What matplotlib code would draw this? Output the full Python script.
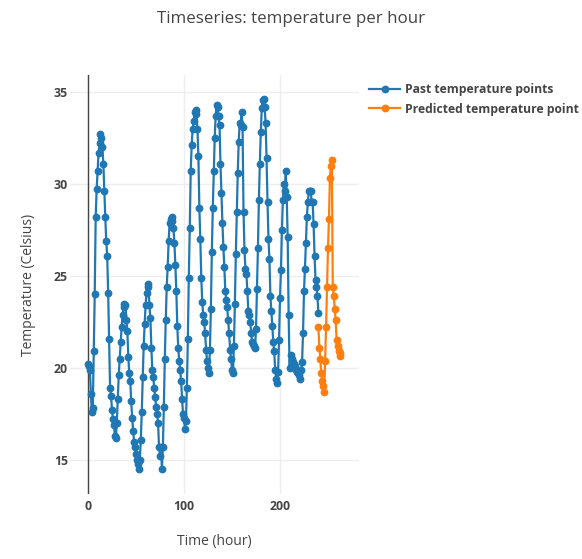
import numpy as np
import matplotlib
matplotlib.use("Agg")
import matplotlib.pyplot as plt

plt.rcParams['font.family'] = ['Open Sans', 'DejaVu Sans']

# Past hourly temperatures (hours 0..240)
past_temp = [
    20.2, 20.1, 19.9, 18.6, 17.6, 17.8, 20.9, 24.0, 28.2, 29.7, 30.7, 31.7,
    32.2, 32.7, 32.5, 32.0, 31.1, 29.6, 28.2, 26.9, 26.1, 24.1, 21.6, 18.9,
    18.5, 17.7, 17.2, 16.9, 16.3, 16.2, 17.0, 18.3, 19.6, 20.5, 21.4, 22.2,
    22.9, 23.3, 23.5, 23.4, 22.6, 22.0, 20.6, 19.7, 19.3, 18.2, 17.3, 16.6,
    16.0, 15.7, 15.3, 15.0, 14.8, 14.5, 15.0, 16.1, 17.6, 19.5, 21.2, 22.4,
    23.4, 24.1, 24.55, 24.4, 23.4, 22.7, 21.1, 19.9, 19.5, 18.9, 18.4, 17.9,
    17.5, 17.0, 15.7, 15.2, 15.7, 14.5, 15.7, 17.9, 20.5, 22.6, 24.4, 25.5,
    26.9, 27.9, 28.1, 28.2, 28.0, 27.6, 26.8, 25.6, 24.2, 22.3, 21.1, 20.4,
    19.9, 19.3, 18.3, 17.5, 17.3, 16.7, 17.1, 18.9, 21.6, 24.9, 27.6, 30.7,
    32.1, 33.0, 33.4, 33.9, 34.0, 33.8, 33.0, 31.5, 28.7, 27.0, 24.9, 23.6,
    22.9, 22.5, 21.9, 21.0, 20.4, 20.0, 19.7, 21.0, 23.2, 26.3, 28.7, 30.7,
    32.5, 33.7, 34.3, 34.2, 33.7, 33.2, 31.1, 29.5, 27.9, 26.6, 25.5, 24.2,
    23.7, 23.3, 22.6, 21.9, 21.0, 20.5, 19.9, 19.7, 21.2, 23.5, 26.2, 28.5,
    30.6, 32.3, 33.3, 33.2, 33.9, 33.1, 28.5, 26.4, 25.4, 25.1, 24.2, 23.1,
    22.9, 22.5, 21.9, 21.4, 21.3, 21.2, 21.1, 22.1, 24.3, 26.5, 29.1, 31.1,
    32.8, 34.1, 34.55, 34.6, 34.2, 33.3, 31.4, 29.0, 27.0, 25.9, 23.9, 23.1,
    22.3, 21.4, 20.9, 19.9, 19.4, 19.2, 19.8, 21.5, 23.8, 25.3, 27.5, 29.1,
    30.0, 29.6, 30.7, 29.3, 27.1, 22.9, 20.0, 20.7, 20.5, 20.4, 20.3, 20.2,
    20.1, 19.9, 19.8, 19.7, 19.6, 19.4, 19.9, 20.3, 21.9, 24.2, 25.4, 26.8,
    28.2, 29.0, 29.6, 29.6, 29.6, 29.0, 29.0, 27.8, 26.1, 24.8, 24.4, 23.9,
    23.0,
]
past_hours = list(range(len(past_temp)))

# Predicted hourly temperatures (hours 240..263)
pred_temp = [
    22.2, 21.1, 20.5, 19.7, 19.3, 19.0, 18.7, 20.4, 22.2, 24.4, 26.5, 28.1,
    30.3, 31.0, 31.3, 24.4, 23.9, 23.2, 22.6, 21.5, 21.2, 20.9, 20.8, 20.65,
]
pred_hours = list(range(240, 240 + len(pred_temp)))

series_names = ["Past temperature points", "Predicted temperature point"]
title = "Timeseries: temperature per hour"
x_title = "Time (hour)"
y_title = "Temperature (Celsius)"
x_ticks = [0, 100, 200]
y_ticks = [15, 20, 25, 30, 35]

W, H = 582, 559
fig = plt.figure(figsize=(W / 100, H / 100), dpi=100)
L, R, T, B = 70, 359, 75, 494
ax = fig.add_axes([L / W, 1 - B / H, (R - L) / W, (B - T) / H])

txt = '#444444'
ax.plot(past_hours, past_temp, color='#1f77b4', lw=1.6, marker='o', ms=4.6,
        label=series_names[0], zorder=3)
ax.plot(pred_hours, pred_temp, color='#ff7f0e', lw=1.6, marker='o', ms=4.6,
        label=series_names[1], zorder=3)

ax.set_xlim(-18.75, 282.3)
ax.set_ylim(13.15, 35.92)
ax.set_xticks(x_ticks)
ax.set_yticks(y_ticks)
ax.grid(True, color='#eeeeee', lw=1)
ax.set_axisbelow(True)
ax.axvline(0, color='#444444', lw=1, zorder=2)
for s in ax.spines.values():
    s.set_visible(False)
ax.tick_params(length=0, colors=txt, labelsize=8.8)
ax.tick_params(axis='y', pad=1.5)
ax.tick_params(axis='x', pad=4)
for lab in ax.get_xticklabels() + ax.get_yticklabels():
    lab.set_fontweight('bold')

fig.text(0.5, 1 - 19 / H, title, ha='center', va='center', fontsize=12.2, color=txt)
fig.text((L + R) / 2 / W, 1 - 541 / H, x_title, ha='center', va='center', fontsize=10, color=txt)
fig.text(28 / W, 1 - (T + B) / 2 / H, y_title, ha='center', va='center', rotation=90,
         fontsize=10, color=txt)

leg = ax.legend(loc='upper left', bbox_to_anchor=(369 / W, 1 - 83 / H),
                bbox_transform=fig.transFigure, frameon=False,
                fontsize=8.7, handlelength=2.6, handletextpad=0.4,
                labelspacing=0.55, borderpad=0, borderaxespad=0)
for t in leg.get_texts():
    t.set_color(txt)
    t.set_fontweight('bold')

fig.savefig('out.png', dpi=100)
